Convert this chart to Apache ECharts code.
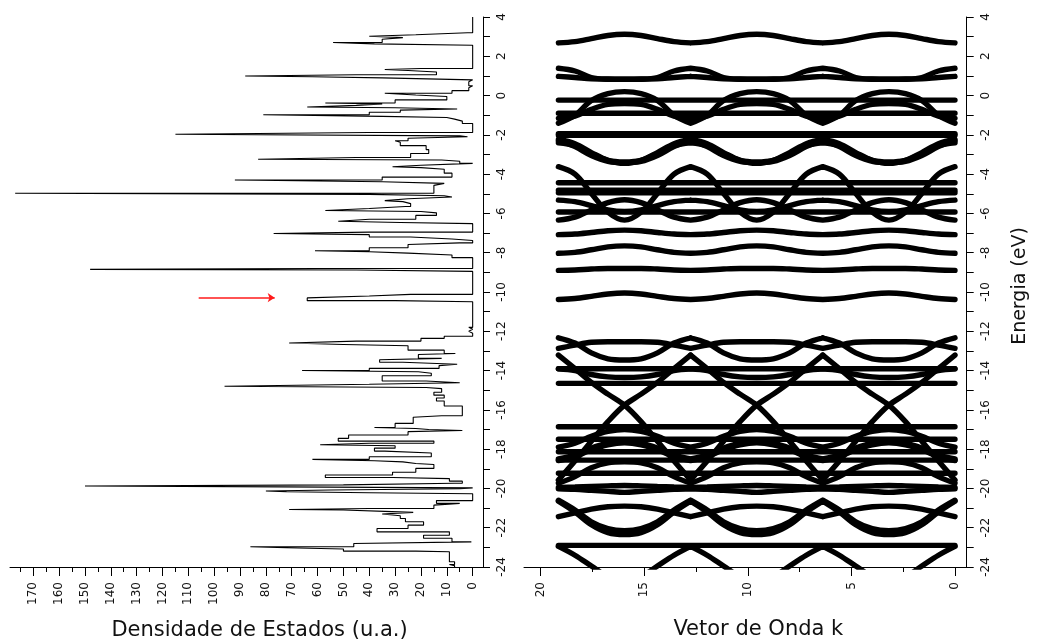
<!DOCTYPE html>
<html><head><meta charset="utf-8">
<script src="https://cdn.jsdelivr.net/npm/echarts@6/dist/echarts.min.js"></script>
<style>html,body{margin:0;padding:0;background:#fff}#c{width:1037px;height:644px}</style>
</head><body><div id="c"></div>
<script>
// ---- Density of states (left panel): energy (eV) and DOS value (u.a.) ----
const dosEnergy = [4.0,3.2,3.1,3.02,2.95,2.87,2.7,2.63,2.56,2.49,1.38,1.33,1.28,1.2,1.06,1.0,0.96,0.9,0.8,0.7,0.5,0.4,0.25,0.12,0.03,-0.05,-0.22,-0.38,-0.43,-0.5,-0.58,-0.62,-0.68,-0.74,-0.85,-0.98,-1.06,-1.12,-1.2,-1.3,-1.42,-1.55,-1.88,-1.97,-2.05,-2.1,-2.17,-2.3,-2.38,-2.55,-2.75,-2.95,-3.15,-3.24,-3.28,-3.34,-3.45,-3.55,-3.62,-3.67,-3.75,-3.95,-4.15,-4.3,-4.39,-4.47,-4.57,-4.97,-5.03,-5.1,-5.16,-5.25,-5.35,-5.4,-5.5,-5.65,-5.75,-5.85,-5.9,-5.97,-6.1,-6.3,-6.4,-6.46,-6.52,-6.6,-6.95,-7.02,-7.08,-7.14,-7.2,-7.3,-7.38,-7.5,-7.58,-7.75,-7.9,-7.95,-8.02,-8.12,-8.25,-8.35,-8.8,-8.85,-8.88,-8.95,-9.03,-10.12,-10.2,-10.3,-10.44,-10.5,-10.55,-11.8,-11.9,-12.0,-12.1,-12.25,-12.36,-12.5,-12.6,-12.67,-12.74,-12.96,-13.13,-13.18,-13.38,-13.45,-13.58,-13.68,-13.75,-13.89,-14.0,-14.06,-14.14,-14.26,-14.53,-14.62,-14.7,-14.8,-14.86,-14.92,-15.1,-15.25,-15.4,-15.55,-15.8,-15.96,-16.3,-16.38,-16.69,-16.9,-16.95,-17.0,-17.05,-17.11,-17.28,-17.45,-17.59,-17.7,-17.78,-17.83,-17.95,-18.1,-18.2,-18.39,-18.52,-18.59,-18.65,-18.73,-18.78,-18.98,-19.18,-19.32,-19.44,-19.5,-19.63,-19.74,-19.82,-19.88,-19.92,-19.97,-20.02,-20.08,-20.13,-20.17,-20.22,-20.27,-20.31,-20.62,-20.76,-20.85,-21.02,-21.07,-21.1,-21.17,-21.22,-21.3,-21.39,-21.53,-21.7,-21.87,-22.04,-22.21,-22.38,-22.54,-22.72,-22.8,-22.97,-23.02,-23.08,-23.19,-23.22,-23.4,-23.73,-23.87,-23.93,-24.0];
const dosValue  = [0,0,2,22,40,27,35,54,38,0,0,20,34,25,14,45,88,62,35,0,1.5,0,1.5,8,34,22,10,30,57,35,45,64,30,6,28,40,81,35,10,7,4,0,0,40,115,5,2,25,30,28,18,17,24,45,83,12,5,0,20,31,20,11,8,35,92,35,11,15,177,40,11,8,25,34,27,24,26,40,57,20,14,22,40,52,28,0,0,40,77,40,40,24,8,0,5,25,40,61,40,25,8,0,0,60,148,45,0,0,24,40,64,30,0,0,1.5,0,1.5,0,11,20,45,71,50,25,11,6.7,21,12,36,27,6,13,40,66,21,16,35,18,5,40,96,18,12,15,11,14,11,4,4,12,23,30,38,22,17,4,25,48,52,15,40,59,30,38,34,16,40,62,38,27,22,15,22,31,57,31,9,4,7,50,150,74,0,5,55,80,72,40,0,0,14,5,15,40,71,50,34,23,35,28,26,19,25,37,9,19,8,0.5,46,86,72,50,22,9,9,7,9,7];

// red arrow (DOS, energy) start and end
const arrowFrom = [106, -10.29];
const arrowTo   = [76.6, -10.29];

// ---- Band structure (right panel) ----
// k positions of the samples (eight steps per zone, three identical zones)
const kGrid = [0,0.8,1.6,2.39,3.19,3.99,4.79,5.58,6.38,7.18,7.98,8.77,9.57,10.37,11.17,11.96,12.76,13.56,14.36,15.15,15.95,16.75,17.55,18.34,19.14];
// Energy (eV) of each band at the 9 samples of one zone (the figure repeats the zone 3 times)
const bandEnergies = [
 [2.68,2.75,2.9,3.06,3.12,3.06,2.9,2.75,2.68],
 [1.39,1.25,0.92,0.84,0.83,0.84,0.92,1.25,1.39],
 [0.98,0.92,0.85,0.83,0.83,0.83,0.85,0.92,0.98],
 [-1.41,-1.0,-0.25,0.1,0.2,0.1,-0.25,-1.0,-1.41],
 [-0.23,-0.23,-0.23,-0.23,-0.23,-0.23,-0.23,-0.23,-0.23],
 [-0.9,-0.9,-0.9,-0.9,-0.9,-0.9,-0.9,-0.9,-0.9],
 [-1.16,-1.05,-0.7,-0.45,-0.4,-0.45,-0.7,-1.05,-1.16],
 [-1.94,-1.94,-1.94,-1.94,-1.94,-1.94,-1.94,-1.94,-1.94],
 [-2.02,-2.02,-2.02,-2.02,-2.02,-2.02,-2.02,-2.02,-2.02],
 [-2.22,-2.45,-2.9,-3.3,-3.45,-3.3,-2.9,-2.45,-2.22],
 [-2.3,-2.6,-3.05,-3.35,-3.42,-3.35,-3.05,-2.6,-2.3],
 [-2.4,-2.55,-2.95,-3.3,-3.38,-3.3,-2.95,-2.55,-2.4],
 [-4.44,-4.44,-4.44,-4.44,-4.44,-4.44,-4.44,-4.44,-4.44],
 [-4.82,-4.82,-4.82,-4.82,-4.82,-4.82,-4.82,-4.82,-4.82],
 [-4.95,-4.95,-4.95,-4.95,-4.95,-4.95,-4.95,-4.95,-4.95],
 [-3.62,-4.0,-4.98,-5.94,-6.34,-5.94,-4.98,-4.0,-3.62],
 [-6.34,-6.19,-5.82,-5.45,-5.3,-5.45,-5.82,-6.19,-6.34],
 [-5.32,-5.4,-5.6,-5.82,-5.9,-5.82,-5.6,-5.4,-5.32],
 [-5.93,-5.93,-5.93,-5.93,-5.93,-5.93,-5.93,-5.93,-5.93],
 [-7.08,-7.05,-6.97,-6.88,-6.85,-6.88,-6.97,-7.05,-7.08],
 [-8.03,-7.98,-7.85,-7.7,-7.65,-7.7,-7.85,-7.98,-8.03],
 [-8.9,-8.88,-8.83,-8.8,-8.8,-8.8,-8.83,-8.88,-8.9],
 [-10.38,-10.33,-10.22,-10.1,-10.05,-10.1,-10.22,-10.33,-10.38],
 [-12.33,-12.6,-13.1,-13.4,-13.46,-13.4,-13.1,-12.6,-12.33],
 [-12.87,-12.7,-12.56,-12.53,-12.53,-12.53,-12.56,-12.7,-12.87],
 [-13.21,-13.9,-14.6,-15.2,-15.76,-16.6,-17.6,-18.6,-19.57],
 [-19.57,-18.6,-17.6,-16.6,-15.76,-15.2,-14.6,-13.9,-13.21],
 [-13.91,-13.91,-13.91,-13.91,-13.91,-13.91,-13.91,-13.91,-13.91],
 [-13.91,-14.0,-14.2,-14.32,-14.35,-14.32,-14.2,-14.0,-13.91],
 [-14.65,-14.65,-14.65,-14.65,-14.65,-14.65,-14.65,-14.65,-14.65],
 [-16.86,-16.86,-16.86,-16.86,-16.86,-16.86,-16.86,-16.86,-16.86],
 [-17.9,-17.7,-17.35,-17.1,-17.0,-17.1,-17.35,-17.7,-17.9],
 [-18.5,-18.3,-17.95,-17.7,-17.6,-17.7,-17.95,-18.3,-18.5],
 [-18.58,-18.38,-18.03,-17.78,-17.68,-17.78,-18.03,-18.38,-18.58],
 [-19.74,-19.4,-18.95,-18.7,-18.65,-18.7,-18.95,-19.4,-19.74],
 [-17.5,-17.5,-17.5,-17.5,-17.5,-17.5,-17.5,-17.5,-17.5],
 [-18.13,-18.13,-18.13,-18.13,-18.13,-18.13,-18.13,-18.13,-18.13],
 [-18.56,-18.56,-18.56,-18.56,-18.56,-18.56,-18.56,-18.56,-18.56],
 [-19.23,-19.23,-19.23,-19.23,-19.23,-19.23,-19.23,-19.23,-19.23],
 [-19.95,-19.93,-19.9,-19.87,-19.85,-19.87,-19.9,-19.93,-19.95],
 [-20.02,-20.05,-20.1,-20.15,-20.2,-20.15,-20.1,-20.05,-20.02],
 [-20.6,-21.1,-21.7,-22.05,-22.15,-22.05,-21.7,-21.1,-20.6],
 [-21.44,-21.25,-21.05,-20.93,-20.9,-20.93,-21.05,-21.25,-21.44],
 [-20.65,-21.2,-21.85,-22.25,-22.35,-22.25,-21.85,-21.2,-20.65],
 [-22.9,-22.9,-22.9,-22.9,-22.9,-22.9,-22.9,-22.9,-22.9],
 [-22.95,-23.4,-23.95,-24.5,-24.8,-24.5,-23.95,-23.4,-22.95]
];

// ---- Axis tick values ----
const dosTicksMajor = [0,10,20,30,40,50,60,70,80,90,100,110,120,130,140,150,160,170];
const dosTicksMinor = [5,15,25,35,45,55,65,75,85,95,105,115,125,135,145,155,165,175];
const kTicksMajor = [0,5,10,15,20];
const kTicksMinor = [2.5,7.5,12.5,17.5];
const energyTicks = [-24,-23,-22,-21,-20,-19,-18,-17,-16,-15,-14,-13,-12,-11,-10,-9,-8,-7,-6,-5,-4,-3,-2,-1,0,1,2,3,4];

const xTitleLeft = 'Densidade de Estados (u.a.)';
const xTitleRight = 'Vetor de Onda k';
const yTitle = 'Energia (eV)';

const FONT = 'DejaVu Sans';
const black = '#000';

function bandSeriesData(vals) {
  const out = [];
  for (let z = 0; z < 3; z++) {
    for (let j = 0; j <= 8; j++) out.push([kGrid[8 * z + j], vals[j]]);
    if (z < 2) out.push([kGrid[8 * z + 8], '-']);
  }
  return out;
}

const chart = echarts.init(document.getElementById('c'), null, {renderer: 'canvas'});

const axisLabelBase = {color: '#111', fontFamily: FONT, fontSize: 12, rotate: 90};
function xMain(grid, min, max, major, len) {
  return {type: 'value', gridIndex: grid, inverse: true, min, max, position: 'bottom',
    axisLine: {show: true, onZero: false, lineStyle: {color: black, width: 1}},
    axisTick: {show: true, length: len, customValues: major, lineStyle: {color: black, width: 1}},
    axisLabel: Object.assign({customValues: major, margin: 15}, axisLabelBase),
    splitLine: {show: false}};
}
function xMinor(grid, min, max, minor, len) {
  return {type: 'value', gridIndex: grid, inverse: true, min, max, position: 'bottom',
    axisLine: {show: false, onZero: false},
    axisTick: {show: true, length: len, customValues: minor, lineStyle: {color: black, width: 1}},
    axisLabel: {show: false}, splitLine: {show: false}};
}
function yAx(grid) {
  return {type: 'value', gridIndex: grid, position: 'right', min: -24, max: 4, interval: 2,
    axisLine: {show: true, onZero: false, lineStyle: {color: black, width: 1}},
    axisTick: {show: true, length: 7, customValues: energyTicks, lineStyle: {color: black, width: 1}},
    axisLabel: Object.assign({margin: 13}, axisLabelBase),
    splitLine: {show: false}};
}

const series = [{
  type: 'line', xAxisIndex: 0, yAxisIndex: 0,
  data: dosValue.map((v, i) => [v, dosEnergy[i]]),
  showSymbol: false, symbol: 'none', step: 'end',
  lineStyle: {color: black, width: 1.1},
  markLine: {silent: true, symbol: ['none', 'arrow'], symbolSize: 7,
    lineStyle: {color: '#ff1a1a', width: 1.6, type: 'solid'}, label: {show: false},
    data: [[{coord: arrowFrom}, {coord: arrowTo}]]}
}];
bandEnergies.forEach(vals => series.push({
  type: 'line', xAxisIndex: 2, yAxisIndex: 1, data: bandSeriesData(vals),
  showSymbol: false, symbol: 'none', smooth: 0.35, connectNulls: false,
  lineStyle: {color: black, width: 5.4, cap: 'round'}
}));

chart.setOption({
  animation: false,
  backgroundColor: '#fff',
  grid: [
    {left: 10, width: 473, top: 17, height: 550},
    {left: 524, width: 442.7, top: 17, height: 550}
  ],
  xAxis: [
    xMain(0, -4, 179, dosTicksMajor, 9),
    xMinor(0, -4, 179, dosTicksMinor, 5),
    xMain(1, -0.565, 20.8, kTicksMajor, 9),
    xMinor(1, -0.565, 20.8, kTicksMinor, 5)
  ],
  yAxis: [yAx(0), yAx(1)],
  series,
  graphic: [
    {type: 'text', x: 259.5, y: 630.5, style: {text: xTitleLeft, font: '21px "DejaVu Sans"', fill: '#111', align: 'center', verticalAlign: 'middle'}},
    {type: 'text', x: 758.3, y: 630, style: {text: xTitleRight, font: '21px "DejaVu Sans"', fill: '#111', align: 'center', verticalAlign: 'middle'}},
    {type: 'text', x: 1020, y: 286, rotation: Math.PI / 2, style: {text: yTitle, font: '19px "DejaVu Sans"', fill: '#111', align: 'center', verticalAlign: 'middle'}}
  ]
});
</script></body></html>
